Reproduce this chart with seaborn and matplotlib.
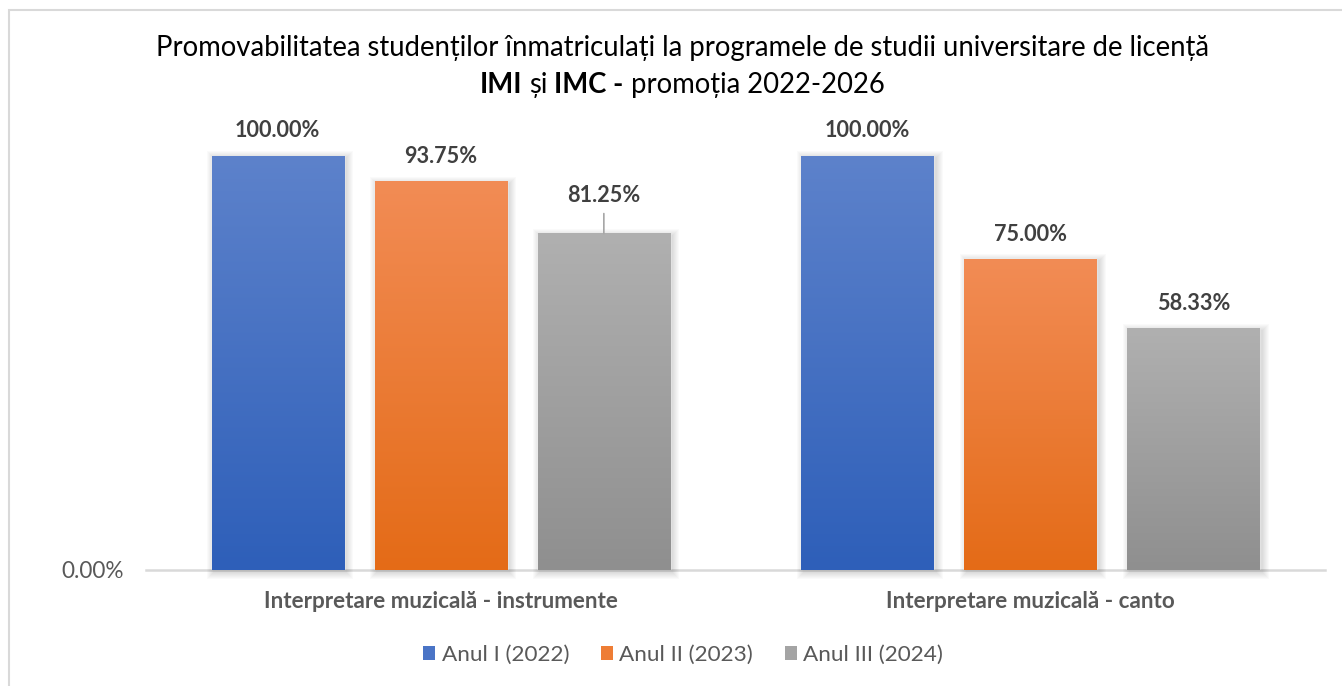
import numpy as np
import pandas as pd
import matplotlib
matplotlib.use("Agg")
import matplotlib.pyplot as plt
import matplotlib.transforms as mtransforms
from matplotlib.colors import LinearSegmentedColormap
from matplotlib.patches import Rectangle, Patch
import seaborn as sns

# --- data -------------------------------------------------------------
programs = ["Interpretare muzicală - instrumente", "Interpretare muzicală - canto"]
years = ["Anul I (2022)", "Anul II (2023)", "Anul III (2024)"]
instrumente = [100.00, 93.75, 81.25]
canto = [100.00, 75.00, 58.33]

title_line1 = "Promovabilitatea studenților înmatriculați la programele de studii universitare de licență"
title_line2 = [("IMI", "bold"), (" și ", "normal"), ("IMC -", "bold"), (" promoția 2022-2026", "normal")]

# --- styling ----------------------------------------------------------
top_colors = ["#5D82CB", "#F28C55", "#B0B0B0"]
bottom_colors = ["#2E5FB9", "#E46B17", "#8F8F8F"]
legend_colors = ["#4A74C6", "#EE7D35", "#A4A4A4"]
TITLE_FS = 19.8

df = pd.DataFrame({
    "program": np.repeat(programs, len(years)),
    "an": years * len(programs),
    "procent": instrumente + canto,
})

sns.set_theme(style="white")
plt.rcParams["font.family"] = ["Lato", "DejaVu Sans"]

W, H = 1342, 686
fig = plt.figure(figsize=(W / 100, H / 100), dpi=100, facecolor="white")
ax = fig.add_axes([146 / W, 1 - 570 / H, (1325 - 146) / W, (570 - 156) / H])
ax.patch.set_alpha(0)

sns.barplot(data=df, x="program", y="procent", hue="an", order=programs,
            hue_order=years, palette=dict(zip(years, bottom_colors)),
            width=0.83, gap=0.19, errorbar=None, legend=False, ax=ax)

ax.set_xlim(-0.5, 1.5)
ax.set_ylim(0, 100)

# vertical gradient fill on each bar, lighter at the top
for i, cont in enumerate(ax.containers):
    cmap = LinearSegmentedColormap.from_list(f"g{i}", [bottom_colors[i], top_colors[i]])
    for bar in cont:
        bar.set_zorder(2)
        x0, w, h = bar.get_x(), bar.get_width(), bar.get_height()
        grad = np.linspace(0, 1, 256).reshape(-1, 1)
        ax.imshow(grad, extent=[x0, x0 + w, 0, h], origin="lower", cmap=cmap,
                  aspect="auto", interpolation="bicubic", zorder=3)
ax.set_xlim(-0.5, 1.5)
ax.set_ylim(0, 100)

# soft drop shadow behind the bars
fig.canvas.draw()
for cont in ax.containers:
    for bar in cont:
        (px0, py0), (px1, py1) = ax.transData.transform(
            [(bar.get_x(), 0), (bar.get_x() + bar.get_width(), bar.get_height())])
        for k in range(1, 8):
            ax.add_patch(Rectangle((px0 - k + 2.5, py0 - k - 2), (px1 - px0) + 2 * k,
                                   (py1 - py0) + 2 * k, transform=mtransforms.IdentityTransform(),
                                   facecolor="black", edgecolor="none", alpha=0.02,
                                   zorder=1, clip_on=False))

# value labels
label_lift = {(0, 2): 38}
values_by_year = list(zip(instrumente, canto))
for i, cont in enumerate(ax.containers):
    for j, bar in enumerate(cont):
        v = values_by_year[i][j]
        lift = label_lift.get((j, i), 25)
        xc = bar.get_x() + bar.get_width() / 2
        kw = {}
        if lift > 25:
            kw["arrowprops"] = dict(arrowstyle="-", color="#A6A6A6", lw=1.2,
                                    shrinkA=3, shrinkB=0)
        ax.annotate(f"{v:.2f}%", xy=(xc, v), xytext=(0, lift), textcoords="offset pixels",
                    ha="center", va="center", fontsize=15.6, fontweight="bold",
                    color="#404040", zorder=5, **kw)

# axes
ax.set_xlabel("")
ax.set_ylabel("")
ax.set_yticks([0])
ax.yaxis.set_major_formatter(lambda v, p: f"{v:.2f}%")
ax.tick_params(axis="y", length=0, pad=16, labelsize=16.3, labelcolor="#595959")
ax.tick_params(axis="x", length=0, pad=15, labelsize=16.2, labelcolor="#595959")
for lab in ax.get_xticklabels():
    lab.set_fontweight("bold")
for s in ["top", "left", "right"]:
    ax.spines[s].set_visible(False)
ax.spines["bottom"].set_color("#D9D9D9")
ax.spines["bottom"].set_linewidth(1.8)
ax.spines["bottom"].set_zorder(0)

# legend
handles = [Patch(facecolor=c, edgecolor="none") for c in legend_colors]
fig.legend(handles, years, loc="center", bbox_to_anchor=(683 / W, 1 - 655 / H), ncol=3,
           frameon=False, fontsize=16.2, labelcolor="#595959", handlelength=0.55,
           handleheight=0.55, handletextpad=0.28, columnspacing=1.4)

# title
fig.text(682 / W, 1 - 48 / H, title_line1, ha="center", va="center", fontsize=TITLE_FS,
         color="black")
renderer = fig.canvas.get_renderer()
parts = []
for txt, wt in title_line2:
    t = fig.text(0, 1 - 85 / H, txt.strip(), ha="left", va="center", fontsize=TITLE_FS,
                 fontweight=wt, color="black")
    parts.append((txt, t))
probe_a = fig.text(0, 0, "xx", fontsize=TITLE_FS)
probe_b = fig.text(0, 0, "x x", fontsize=TITLE_FS)
space_w = probe_b.get_window_extent(renderer).width - probe_a.get_window_extent(renderer).width
probe_a.remove()
probe_b.remove()
widths = []
for txt, t in parts:
    wpx = t.get_window_extent(renderer).width
    wpx += space_w * ((txt != txt.lstrip()) + (txt != txt.rstrip()))
    widths.append(wpx)
x = 682 - sum(widths) / 2
for (txt, t), wpx in zip(parts, widths):
    lead = space_w if txt != txt.lstrip() else 0
    t.set_x((x + lead) / W)
    x += wpx

# chart frame
fig.add_artist(Rectangle((9 / W, -0.05), 2.0, (1 - 10 / H) + 0.05, transform=fig.transFigure,
                         fill=False, edgecolor="#D9D9D9", linewidth=1.5))

fig.savefig("out.png", dpi=100, facecolor="white")
